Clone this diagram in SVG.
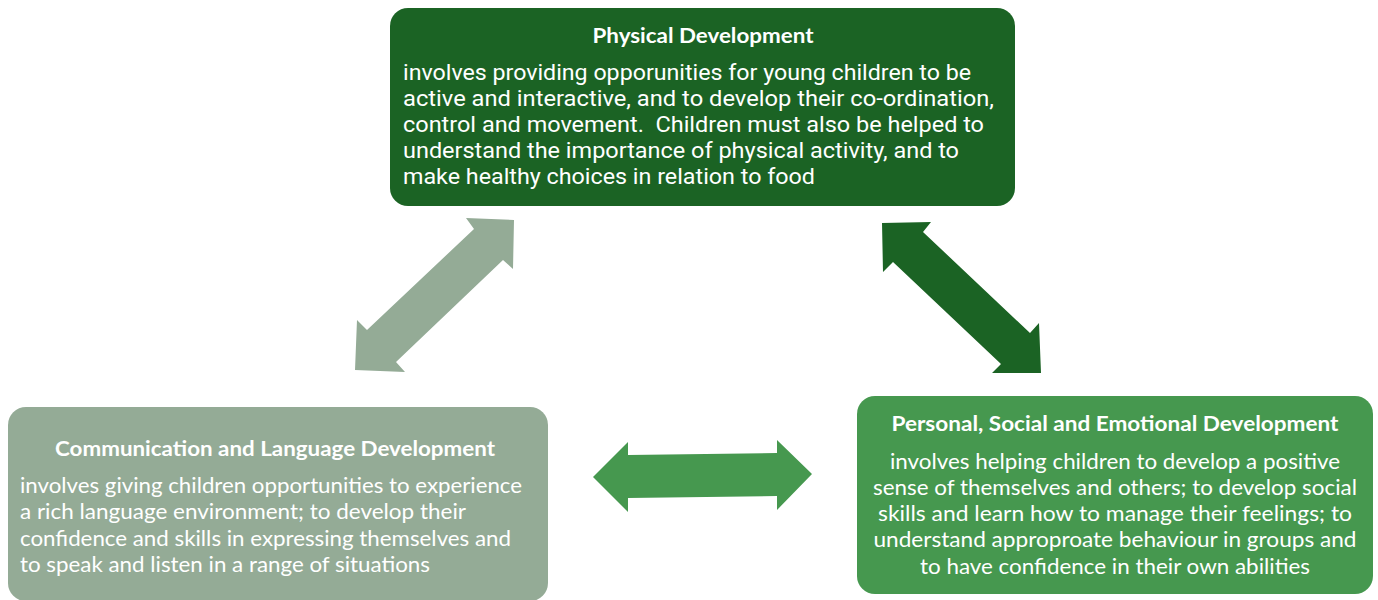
<svg xmlns="http://www.w3.org/2000/svg" width="1378" height="600" viewBox="0 0 1378 600">
<style>
.t{fill:#fff;font-family:Lato,"Open Sans","Liberation Sans",sans-serif;font-weight:bold;font-size:20px}
.b{fill:#fff;font-family:Lato,"Open Sans","Liberation Sans",sans-serif;font-size:21px}
.n{fill:#fff;font-family:Roboto,"Liberation Sans",sans-serif;font-size:22px;white-space:pre}
.c{text-anchor:middle}
</style>
<rect width="1378" height="600" fill="#fff"/>
<g id="connectors">
<polygon fill="#94ab96" points="514,220 513,269 503,260 396,362 405,372 355,370 357,320 367,330 474,229 466,218"/>
<polygon fill="#1b6324" points="882,223 931,222 923,232 1030,333 1039,323 1041,373 992,373 1001,364 893,262 883,272"/>
<polygon fill="#46984f" points="593,477 628,442 628,455 777,453 777,440 812,474 777,510 777,496 628,498 628,512"/>
</g>
<g id="physical">
<rect x="390" y="8" width="625" height="198" rx="18" fill="#1b6324"/>
<text class="t c" x="703" y="43" textLength="221" lengthAdjust="spacingAndGlyphs">Physical Development</text>
<text class="n" x="403" y="80" textLength="568" lengthAdjust="spacingAndGlyphs">involves providing opporunities for young children to be</text>
<text class="n" x="403" y="106" textLength="591" lengthAdjust="spacingAndGlyphs">active and interactive, and to develop their co-ordination,</text>
<text class="n" x="403" y="132" textLength="581" lengthAdjust="spacingAndGlyphs" xml:space="preserve">control and movement.  Children must also be helped to</text>
<text class="n" x="403" y="158" textLength="556" lengthAdjust="spacingAndGlyphs">understand the importance of physical activity, and to</text>
<text class="n" x="403" y="184" textLength="412" lengthAdjust="spacingAndGlyphs">make healthy choices in relation to food</text>
</g>
<g id="communication">
<rect x="8" y="407" width="540" height="194" rx="18" fill="#94ab96"/>
<text class="t c" x="275" y="456" textLength="440" lengthAdjust="spacingAndGlyphs">Communication and Language Development</text>
<text class="b" x="20" y="493" textLength="502" lengthAdjust="spacingAndGlyphs">involves giving children opportunities to experience</text>
<text class="b" x="20" y="519" textLength="446" lengthAdjust="spacingAndGlyphs">a rich language environment; to develop their</text>
<text class="b" x="20" y="546" textLength="491" lengthAdjust="spacingAndGlyphs">confidence and skills in expressing themselves and</text>
<text class="b" x="20" y="572" textLength="410" lengthAdjust="spacingAndGlyphs">to speak and listen in a range of situations</text>
</g>
<g id="personal">
<rect x="857" y="396" width="516" height="198" rx="18" fill="#46984f"/>
<text class="t c" x="1115" y="431" textLength="447" lengthAdjust="spacingAndGlyphs">Personal, Social and Emotional Development</text>
<text class="b c" x="1115" y="469" textLength="450" lengthAdjust="spacingAndGlyphs">involves helping children to develop a positive</text>
<text class="b c" x="1115" y="495" textLength="484" lengthAdjust="spacingAndGlyphs">sense of themselves and others; to develop social</text>
<text class="b c" x="1115" y="521" textLength="474" lengthAdjust="spacingAndGlyphs">skills and learn how to manage their feelings; to</text>
<text class="b c" x="1115" y="547" textLength="483" lengthAdjust="spacingAndGlyphs">understand approproate behaviour in groups and</text>
<text class="b c" x="1115" y="574" textLength="390" lengthAdjust="spacingAndGlyphs">to have confidence in their own abilities</text>
</g>
</svg>
